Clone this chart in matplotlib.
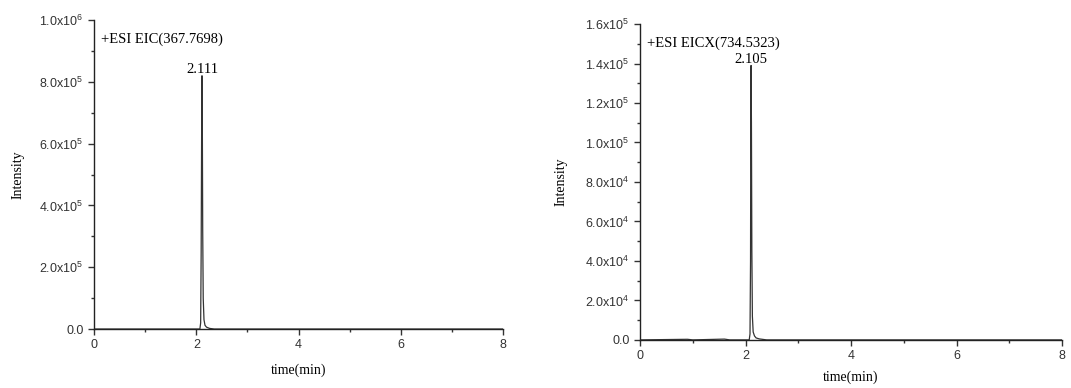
import matplotlib
matplotlib.use('Agg')
import matplotlib.pyplot as plt
from matplotlib.ticker import FixedLocator, MultipleLocator

plt.rcParams['font.family'] = ['Liberation Sans', 'DejaVu Sans']
plt.rcParams['mathtext.fontset'] = 'custom'
plt.rcParams['mathtext.rm'] = 'Liberation Sans'
plt.rcParams['mathtext.default'] = 'rm'

# left chromatogram: EIC 367.7698
time_a = [0.0, 1.0, 2.07, 2.085, 2.095, 2.105, 2.111, 2.118, 2.125, 2.135, 2.15, 2.17, 2.2, 2.26, 2.35, 4.0, 8.0]
int_a = [0, 0, 0, 2.0e4, 2.5e5, 6.8e5, 8.2e5, 6.5e5, 3.2e5, 1.0e5, 3.0e4, 1.2e4, 6.0e3, 2.0e3, 0, 0, 0]
yticks_a = [0, 2e5, 4e5, 6e5, 8e5, 1e6]
ylabels_a = ['0.0', '2.0x10$^{5}$', '4.0x10$^{5}$', '6.0x10$^{5}$', '8.0x10$^{5}$', '1.0x10$^{6}$']

# right chromatogram: EICX 734.5323
time_b = [0.0, 0.9, 1.0, 1.6, 1.7, 2.07, 2.085, 2.095, 2.1, 2.105, 2.112, 2.12, 2.13, 2.145, 2.17, 2.2, 2.26, 2.4, 4.0, 8.0]
int_b = [0, 300, 0, 400, 0, 0, 3.0e3, 4.0e4, 1.1e5, 1.39e5, 1.1e5, 4.5e4, 1.2e4, 4.0e3, 2.0e3, 1.0e3, 500, 0, 0, 0]
yticks_b = [0, 2e4, 4e4, 6e4, 8e4, 1e5, 1.2e5, 1.4e5, 1.6e5]
ylabels_b = ['0.0', '2.0x10$^{4}$', '4.0x10$^{4}$', '6.0x10$^{4}$', '8.0x10$^{4}$',
             '1.0x10$^{5}$', '1.2x10$^{5}$', '1.4x10$^{5}$', '1.6x10$^{5}$']

xticks = [0, 2, 4, 6, 8]

panels = [
    dict(t=time_a, y=int_a, yt=yticks_a, yl=ylabels_a, ymax=1e6, minor=1e5,
         title='+ESI EIC(367.7698)', peak='2.111', pk_x=2.111, pk_y=8.2e5,
         pos=[0.0878, 0.152, 0.382, 0.796], ttl_y=0.938e6, ypad=11, xpad=9),
    dict(t=time_b, y=int_b, yt=yticks_b, yl=ylabels_b, ymax=1.6e5, minor=1e4,
         title='+ESI EICX(734.5323)', peak='2.105', pk_x=2.105, pk_y=1.39e5,
         pos=[0.5976, 0.124, 0.394, 0.814], ttl_y=1.504e5, ypad=13, xpad=6),
]

fig = plt.figure(figsize=(10.71, 3.88), dpi=100)
serif = ['Liberation Serif', 'DejaVu Serif']

for p in panels:
    ax = fig.add_axes(p['pos'])
    ax.plot(p['t'], p['y'], color='#333333', lw=0.9)
    ax.set_xlim(0, 8)
    ax.set_ylim(0, p['ymax'])
    ax.spines['top'].set_visible(False)
    ax.spines['right'].set_visible(False)
    for s in ['left', 'bottom']:
        ax.spines[s].set_linewidth(1.0)
        ax.spines[s].set_color('#222222')
    ax.set_xticks(xticks)
    ax.set_xticklabels([str(v) for v in xticks])
    ax.xaxis.set_minor_locator(MultipleLocator(1))
    ax.yaxis.set_major_locator(FixedLocator(p['yt']))
    ax.set_yticklabels(p['yl'])
    ax.yaxis.set_minor_locator(MultipleLocator(p['minor']))
    ax.tick_params(which='major', direction='out', length=4, width=1, labelsize=9, colors='#333333')
    ax.tick_params(which='minor', direction='out', length=2.5, width=1, colors='#333333')
    ax.set_xlabel('time(min)', family=serif, fontsize=10, labelpad=p['xpad'])
    ax.set_ylabel('Intensity', family=serif, fontsize=10, labelpad=p['ypad'])
    ax.text(0.13, p['ttl_y'], p['title'], family=serif, fontsize=10.5, va='center', ha='left')
    ax.text(p['pk_x'], p['pk_y'] * 1.01, p['peak'], family=serif, fontsize=10.5, va='baseline', ha='center')

fig.savefig('out.png', dpi=100)
